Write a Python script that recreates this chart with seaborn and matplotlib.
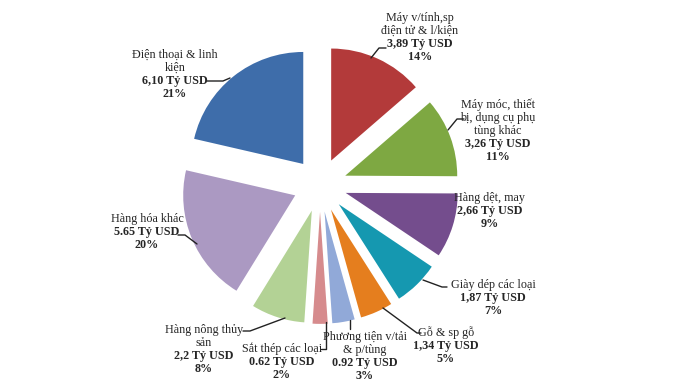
import matplotlib
matplotlib.use("Agg")
import matplotlib.pyplot as plt
import seaborn as sns

# data
names = ['Máy v/tính,sp\nđiện tử & l/kiện', 'Máy móc, thiết\nbị, dụng cụ phụ\ntùng khác',
         'Hàng dệt, may', 'Giày dép các loại', 'Gỗ & sp gỗ', 'Phương tiện v/tải\n& p/tùng',
         'Sắt thép các loại', 'Hàng nông thủy\nsản', 'Hàng hóa khác', 'Điện thoại & linh\nkiện']
values = [3.89, 3.26, 2.66, 1.87, 1.34, 0.92, 0.62, 2.2, 5.65, 6.10]
value_text = ['3,89', '3,26', '2,66', '1,87', '1,34', '0.92', '0.62', '2,2', '5.65', '6,10']
percents = [14, 11, 9, 7, 5, 3, 2, 8, 20, 21]
colors = ['#B33A3A', '#7EA842', '#744D8D', '#1598B0', '#E57E1E',
          '#91A9D8', '#D68B8D', '#B3D295', '#AB99C2', '#3E6DAA']

# layout in pixels: label centre x, first line y, leader line points
label_pos = [(420, 18), (498, 105), (490, 198), (493, 285), (446, 333),
             (365, 337), (282, 349), (204, 330), (147, 219), (175, 55)]
leaders = [[(386, 48), (379, 48), (371, 58)],
           [(464, 119), (457, 119), (448, 130)],
           [],
           [(423, 280), (442, 287), (447, 287)],
           [(383, 308), (417, 333), (421, 333)],
           [(350, 320), (350, 329)],
           [(326, 322), (326, 349), (321, 349)],
           [(285, 318), (250, 331), (243, 331)],
           [(197, 244), (185, 235), (178, 235)],
           [(230, 78), (223, 81), (207, 81)]]

W, H = 684, 384
CX, CY, R = 320, 185, 112.0

def px(x, y):
    return (x - CX) / R, (CY - y) / R

sns.set_style("white")
plt.rcParams['font.family'] = ['Liberation Serif', 'DejaVu Serif']

fig = plt.figure(figsize=(W / 100, H / 100), dpi=100)
ax = fig.add_axes([0, 0, 1, 1])
ax.pie(values, colors=sns.color_palette(colors), startangle=90, counterclock=False,
       explode=[0.24] * len(values), radius=1, wedgeprops=dict(linewidth=0))
ax.set_xlim(-CX / R, (W - CX) / R)
ax.set_ylim(-(H - CY) / R, CY / R)
ax.set_aspect('auto')
ax.axis('off')

step = 12.9
fs = 8.7
for i in range(len(values)):
    lx, ly = label_pos[i]
    lines = names[i].split('\n')
    for k, t in enumerate(lines):
        ax.text(*px(lx, ly + k * step), t, ha='center', va='center', fontsize=fs)
    n = len(lines)
    ax.text(*px(lx, ly + n * step), value_text[i] + ' Tỷ USD', ha='center', va='center',
            fontsize=fs, fontweight='bold')
    ax.text(*px(lx, ly + (n + 1) * step), str(percents[i]) + '%', ha='center', va='center',
            fontsize=fs, fontweight='bold')
    if leaders[i]:
        pts = [px(a, b) for a, b in leaders[i]]
        ax.plot([p[0] for p in pts], [p[1] for p in pts], color='#222222', lw=1)

plt.savefig('out.png', dpi=100)
